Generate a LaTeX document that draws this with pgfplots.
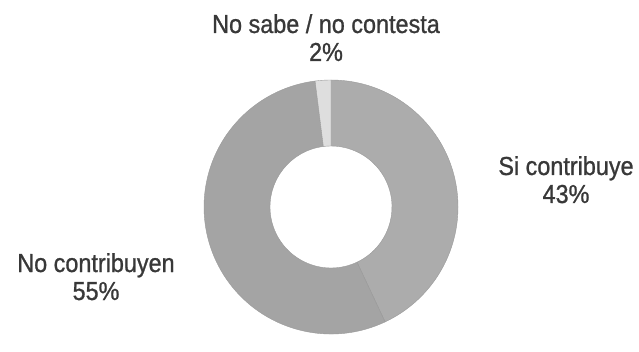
\documentclass[border=0pt]{standalone}
\usepackage{pgfplots}
\pgfplotsset{compat=1.18}
\usepackage{pgfplotstable}
\usepackage{fontspec}
\setmainfont{Liberation Sans}[FakeStretch=0.9, FakeBold=0.9]
\definecolor{cSi}{HTML}{ACACAC}
\definecolor{cNo}{HTML}{A4A4A4}
\definecolor{cNs}{HTML}{DEDEDE}
\definecolor{cTx}{HTML}{383838}
\definecolor{cEdge}{HTML}{9A9A9A}
\pgfplotstableread{
label value
Si 43
No 55
NS 2
}\donutdata
\pgfplotstablegetelem{0}{value}\of\donutdata \let\va\pgfplotsretval
\pgfplotstablegetelem{1}{value}\of\donutdata \let\vb\pgfplotsretval
\pgfplotstablegetelem{2}{value}\of\donutdata \let\vc\pgfplotsretval
\pgfmathsetmacro\aA{90}
\pgfmathsetmacro\aB{\aA-3.6*\va}
\pgfmathsetmacro\aC{\aB-3.6*\vb}
\pgfmathsetmacro\aD{\aC-3.6*\vc}
\newcommand\slice[3]{% start, end, colour
  \fill[#3, draw=cEdge, line width=0.4bp] (axis cs:331,136) ++(#1:127bp)
    arc[start angle=#1, end angle=#2, radius=127bp]
    -- ++(#2+180:66bp)
    arc[start angle=#2, end angle=#1, radius=61bp] -- cycle;}
\begin{document}
\begin{tikzpicture}
\begin{axis}[
  x=1bp, y=1bp, xmin=0, xmax=639, ymin=0, ymax=343,
  scale only axis, hide axis, clip=false,
]
\path (axis cs:0,0) rectangle (axis cs:639,343);
\slice{\aA}{\aB}{cSi}
\slice{\aB}{\aC}{cNo}
\slice{\aC}{\aD}{cNs}
\begin{scope}[every node/.style={font=\fontsize{26bp}{28bp}\selectfont, text=cTx, anchor=base, inner sep=0pt}]
\node at (axis cs:326,310) {No sabe / no contesta};
\node at (axis cs:326,282) {2\%};
\node at (axis cs:566,168) {Si contribuye};
\node at (axis cs:566,140) {43\%};
\node at (axis cs:96,71) {No contribuyen};
\node at (axis cs:96,43) {55\%};
\end{scope}
\end{axis}
\end{tikzpicture}
\end{document}
